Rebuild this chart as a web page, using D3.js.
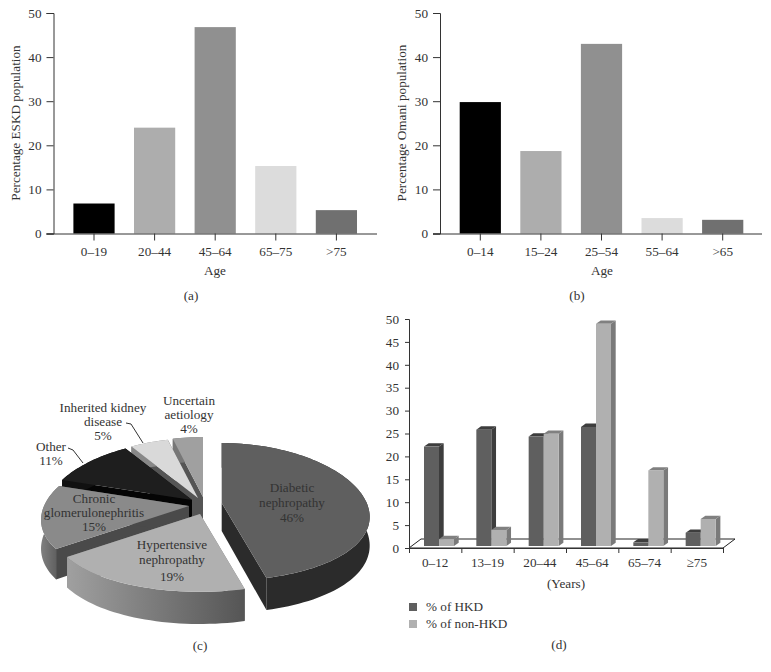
<!DOCTYPE html>
<html>
<head>
<meta charset="utf-8">
<script src="https://cdn.jsdelivr.net/npm/d3@7"></script>
<style>
  body { margin: 0; background: #fff; }
  svg { opacity: 0.999; }
  text { font-family: "Liberation Serif", serif; font-size: 13.2px; fill: #333; }
  .domain, .tick line { stroke: #333; }
</style>
</head>
<body>
<svg id="chart" width="771" height="672"></svg>
<script>
var ageA = ["0–19", "20–44", "45–64", "65–75", ">75"];
var eskd = [6.8, 24, 46.8, 15.3, 5.3];
var ageB = ["0–14", "15–24", "25–54", "55–64", ">65"];
var omani = [29.8, 18.7, 43, 3.5, 3.1];
var barGreys = ["#000000", "#adadad", "#909090", "#dcdcdc", "#707070"];

var causes = ["Diabetic nephropathy", "Hypertensive nephropathy", "Chronic glomerulonephritis", "Other", "Inherited kidney disease", "Uncertain aetiology"];
var shares = [46, 19, 15, 11, 5, 4];

var ageD = ["0–12", "13–19", "20–44", "45–64", "65–74", "≥75"];
var hkd = [21.7, 25.4, 23.9, 26, 0.8, 2.9];
var nonHkd = [1.5, 3.5, 24.5, 48.5, 16.5, 5.9];

var svg = d3.select("#chart");

function label(x, y, str, anchor) {
  svg.append("text").attr("x", x).attr("y", y)
    .attr("text-anchor", anchor || "middle").text(str);
}

// panels (a) and (b)
function simpleBars(cats, vals, left, right, bandLeft, yTitle) {
  var y = d3.scaleLinear().domain([0, 50]).range([233.5, 13]);
  var x = d3.scaleBand().domain(cats).range([bandLeft, bandLeft + 303]).paddingInner(0.32).paddingOuter(0.16);

  svg.append("g").selectAll("rect").data(vals).enter()
    .append("rect")
    .attr("x", function(d, i) { return x(cats[i]); })
    .attr("y", function(d) { return y(d); })
    .attr("width", x.bandwidth())
    .attr("height", function(d) { return y(0) - y(d); })
    .attr("fill", function(d, i) { return barGreys[i]; });

  svg.append("g").attr("transform", "translate(" + left + ",0)")
    .call(d3.axisLeft(y).tickValues([0, 10, 20, 30, 40, 50]).tickSize(7).tickPadding(5));

  var xAxis = svg.append("g").attr("transform", "translate(0,233.5)")
    .call(d3.axisBottom(x).tickSize(7).tickPadding(6).tickSizeOuter(0));
  xAxis.select(".domain").attr("d", "M" + (left - 7) + ",0.5H" + right);

  svg.append("text").attr("transform", "translate(" + (left - 34) + ",123) rotate(-90)")
    .attr("text-anchor", "middle").text(yTitle);
}

simpleBars(ageA, eskd, 53.5, 377, 63.7, "Percentage ESKD population");
simpleBars(ageB, omani, 440, 762, 450, "Percentage Omani population");
label(215, 275, "Age");
label(191, 300, "(a)");
label(602, 275, "Age");
label(577, 300, "(b)");

// panel (c): exploded pie, projected with a little perspective
var pieTops = ["#5f5f5f", "#b0b0b0", "#8a8a8a", "#1e1e1e", "#d9d9d9", "#a0a0a0"];
var pieCuts = ["#2b2b2b", "#777777", "#4a4a4a", "#050505", "#555555", "#555555"];
var pieSides = [["#2b2b2b", "#2b2b2b"], ["#a0a0a0", "#555555"], ["#808080", "#5a5a5a"], ["#111", "#111"], ["#888", "#888"], ["#777", "#777"]];
var apex = [[221.7, 503], [200, 514], [189, 506], [192, 500], [198, 498], [203, 497]];
var pieR = 145, pieRy = 67.7, perspX = 0.2, perspY = 0.13, pieDepth = 28;

function project(a, r, c) {
  var u = Math.sin(a) * r, v = -Math.cos(a) * r;
  var sy = 1 / (1 - perspY * v);
  return { x: c[0] + pieR * u / (1 - perspX * v), y: c[1] + pieRy * v * sy, s: sy };
}

var arcs = d3.pie().sort(null)(shares);
var line = d3.line().x(function(p) { return p[0]; }).y(function(p) { return p[1]; });
var defs = svg.append("defs");

function rimPoints(d, c) {
  var n = Math.max(4, Math.round((d.endAngle - d.startAngle) * 30));
  return d3.range(n + 1).map(function(k) {
    return project(d.startAngle + (d.endAngle - d.startAngle) * k / n, 1, c);
  });
}

// back to front so nearer slices cover the farther ones
d3.range(arcs.length - 1, -1, -1).forEach(function(i) {
  var d = arcs[i], c = apex[i];
  var rim = rimPoints(d, c);
  var g = svg.append("g");
  var down = function(p) { return [p.x, p.y + pieDepth * p.s]; };
  var up = function(p) { return [p.x, p.y]; };
  var mid = { x: c[0], y: c[1], s: 1 };

  var gradId = "side" + i;
  var grad = defs.append("linearGradient").attr("id", gradId);
  // gradient runs left to right on the screen
  grad.attr("gradientUnits", "userSpaceOnUse")
    .attr("x1", d3.min(rim, function(p) { return p.x; }))
    .attr("x2", d3.max(rim, function(p) { return p.x; }))
    .attr("y1", 0).attr("y2", 0);
  grad.append("stop").attr("offset", "0").attr("stop-color", pieSides[i][0]);
  grad.append("stop").attr("offset", "1").attr("stop-color", pieSides[i][1]);

  [rim[0], rim[rim.length - 1]].forEach(function(e) {
    g.append("path")
      .attr("d", line([up(mid), up(e), down(e), down(mid)]) + "Z")
      .attr("fill", pieCuts[i]);
  });
  g.append("path")
    .attr("d", line(rim.map(up).concat(rim.slice().reverse().map(down))) + "Z")
    .attr("fill", "url(#" + gradId + ")");
  g.append("path")
    .attr("d", line([up(mid)].concat(rim.map(up))) + "Z")
    .attr("fill", pieTops[i]);
});

label(189, 405, "Uncertain");
label(189, 419, "aetiology");
label(189, 433, "4%");
label(103, 412, "Inherited kidney");
label(103, 426, "disease");
label(103, 440, "5%");
label(51, 451, "Other");
label(51, 465, "11%");
label(292, 492, "Diabetic");
label(292, 507, "nephropathy");
label(292, 522, "46%");
label(94, 503, "Chronic");
label(94, 517, "glomerulonephritis");
label(94, 531, "15%");
label(172, 549, "Hypertensive");
label(172, 564, "nephropathy");
label(172, 581, "19%");
label(200, 650, "(c)");

svg.append("polyline").attr("points", "68,448 73,450 83,463").attr("fill", "none").attr("stroke", "#333");
svg.append("polyline").attr("points", "126,423 131,424 143,443").attr("fill", "none").attr("stroke", "#333");

// panel (d): 3D looking columns
var yD = d3.scaleLinear().domain([0, 50]).range([548, 319]);
var xD = d3.scaleBand().domain(ageD).range([409, 723]);
var inner = d3.scaleBand().domain(["hkd", "non"]).range([15, 45]);
var depthX = 4.7, depthY = 3.3, lift = 2;
var frontCol = { hkd: "#5f5f5f", non: "#b0b0b0" };
var sideCol = { hkd: "#3d3d3d", non: "#7a7a7a" };
var topCol = { hkd: "#3d3d3d", non: "#808080" };

svg.append("path")
  .attr("d", line([[xD.range()[0], yD(0)], [xD.range()[1], yD(0)], [xD.range()[1] + 12, yD(0) - 9], [xD.range()[0] + 12, yD(0) - 9]]) + "Z")
  .attr("fill", "none").attr("stroke", "#222");

function column(cat, key, v) {
  var x0 = xD(cat) + inner(key), w = inner.bandwidth();
  var top = yD(v) - lift, base = yD(0) - lift;
  svg.append("path").attr("fill", sideCol[key])
    .attr("d", line([[x0 + w, top], [x0 + w + depthX, top - depthY], [x0 + w + depthX, base - depthY], [x0 + w, base]]) + "Z");
  svg.append("path").attr("fill", topCol[key])
    .attr("d", line([[x0, top], [x0 + depthX, top - depthY], [x0 + w + depthX, top - depthY], [x0 + w, top]]) + "Z");
  svg.append("rect").attr("x", x0).attr("y", top).attr("width", w).attr("height", base - top).attr("fill", frontCol[key]);
}

ageD.forEach(function(cat, i) {
  column(cat, "hkd", hkd[i]);
  column(cat, "non", nonHkd[i]);
});

svg.append("g").attr("transform", "translate(409,0)")
  .call(d3.axisLeft(yD).tickValues(d3.range(0, 51, 5)).tickSize(4).tickPadding(6));

var edges = d3.range(ageD.length + 1);
var xEdge = d3.scaleLinear().domain([0, ageD.length]).range(xD.range());
svg.append("g").attr("transform", "translate(0,548)")
  .call(d3.axisBottom(xEdge).tickValues(edges).tickSize(5).tickFormat(""));

ageD.forEach(function(cat) { label(xD(cat) + xD.bandwidth() / 2, 567, cat); });
label(566, 588, "(Years)");

svg.append("rect").attr("x", 409).attr("y", 603).attr("width", 8).attr("height", 8).attr("fill", frontCol.hkd);
svg.append("rect").attr("x", 409).attr("y", 620).attr("width", 8).attr("height", 8).attr("fill", frontCol.non);
label(426, 611, "% of HKD", "start");
label(426, 628, "% of non-HKD", "start");
label(559, 649, "(d)");

svg.selectAll(".tick text").style("font-size", "13.2px").style("font-family", '"Liberation Serif", serif').style("fill", "#333");
</script>
</body>
</html>
